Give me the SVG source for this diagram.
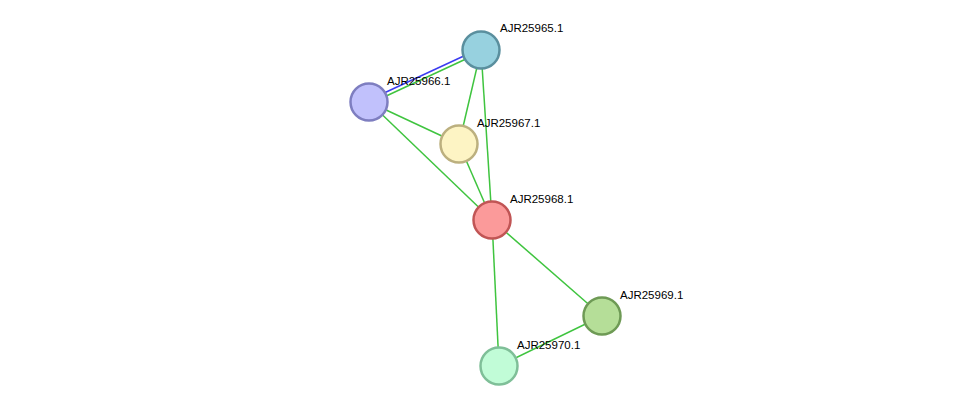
<svg xmlns="http://www.w3.org/2000/svg" width="976" height="412" viewBox="0 0 976 412">
<style>
.e{stroke:#3fc43f;stroke-width:1.5;fill:none}
.n{stroke-width:2.5}
text{font-family:"Liberation Sans",Arial,sans-serif;font-size:11.5px;fill:#000}
</style>
<rect width="976" height="412" fill="#fff"/>
<g id="edges">
<line x1="369" y1="100" x2="481" y2="48" stroke="#3b3bf0" stroke-width="1.5"/>
<line x1="369" y1="104" x2="481" y2="52" class="e"/>
<line x1="481" y1="50" x2="459" y2="144" class="e"/>
<line x1="481" y1="50" x2="492" y2="220" class="e"/>
<line x1="369" y1="102" x2="459" y2="144" class="e"/>
<line x1="369" y1="102" x2="492" y2="220" class="e"/>
<line x1="459" y1="144" x2="492" y2="220" class="e"/>
<line x1="492" y1="220" x2="602" y2="316" class="e"/>
<line x1="492" y1="220" x2="499" y2="366" class="e"/>
<line x1="602" y1="316" x2="499" y2="366" class="e"/>
</g>
<g id="AJR25965.1"><circle class="n" cx="481" cy="50" r="18.5" fill="#97d1df" stroke="#5a8f9e"/><text x="500" y="32">AJR25965.1</text></g>
<g id="AJR25966.1"><circle class="n" cx="369" cy="102" r="18.5" fill="#c1c1fc" stroke="#7e7ec0"/><text x="387" y="85">AJR25966.1</text></g>
<g id="AJR25967.1"><circle class="n" cx="459" cy="144" r="18.5" fill="#fdf4c4" stroke="#bcb07f"/><text x="477" y="127">AJR25967.1</text></g>
<g id="AJR25968.1"><circle class="n" cx="492" cy="220" r="18.5" fill="#fb9a9a" stroke="#c15555"/><text x="510" y="203">AJR25968.1</text></g>
<g id="AJR25969.1"><circle class="n" cx="602" cy="316" r="18.5" fill="#b5de98" stroke="#6e9a55"/><text x="620" y="299">AJR25969.1</text></g>
<g id="AJR25970.1"><circle class="n" cx="499" cy="366" r="18.5" fill="#c1fcd7" stroke="#7fbf98"/><text x="517" y="349">AJR25970.1</text></g>
</svg>
